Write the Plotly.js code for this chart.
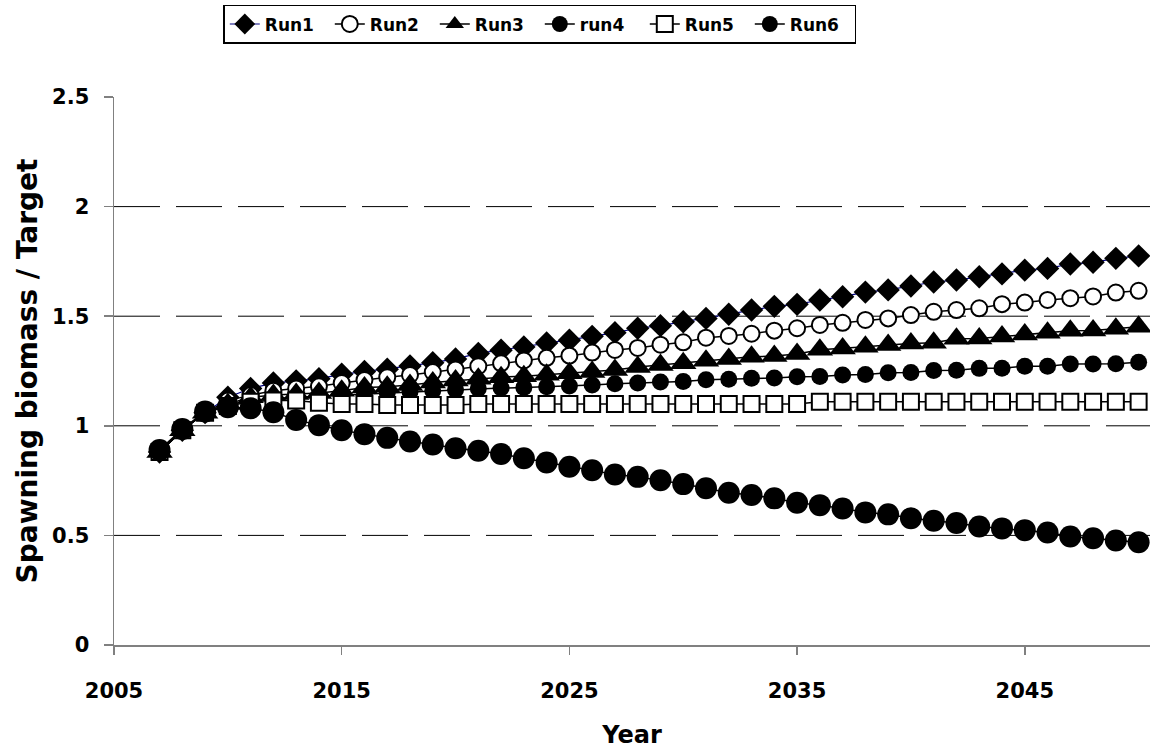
<!DOCTYPE html>
<html>
<head>
<meta charset="utf-8">
<script src="https://cdn.plot.ly/plotly-3.0.1.min.js"></script>
<style>html,body{margin:0;padding:0;background:#fff;}#chart{width:1150px;height:752px;}</style>
</head>
<body>
<div id="chart"></div>
<script>
const years = [2007,2008,2009,2010,2011,2012,2013,2014,2015,2016,2017,2018,2019,2020,2021,2022,2023,2024,2025,2026,2027,2028,2029,2030,2031,2032,2033,2034,2035,2036,2037,2038,2039,2040,2041,2042,2043,2044,2045,2046,2047,2048,2049,2050];

const run1 = [0.88,0.98,1.06,1.13,1.17,1.195,1.205,1.215,1.235,1.248,1.258,1.273,1.288,1.305,1.33,1.345,1.36,1.378,1.39,1.408,1.425,1.445,1.457,1.475,1.49,1.509,1.528,1.545,1.554,1.574,1.589,1.61,1.62,1.638,1.656,1.665,1.68,1.693,1.71,1.718,1.738,1.746,1.764,1.775];
const run2 = [0.88,0.98,1.06,1.115,1.14,1.16,1.17,1.18,1.195,1.209,1.222,1.232,1.245,1.257,1.272,1.285,1.298,1.31,1.32,1.334,1.346,1.355,1.37,1.381,1.402,1.41,1.42,1.434,1.445,1.46,1.47,1.483,1.49,1.505,1.52,1.528,1.536,1.555,1.562,1.574,1.582,1.59,1.608,1.616];
const run3 = [0.88,0.98,1.06,1.10,1.13,1.14,1.145,1.15,1.16,1.175,1.178,1.186,1.198,1.207,1.215,1.222,1.226,1.233,1.24,1.245,1.255,1.268,1.277,1.285,1.297,1.305,1.315,1.318,1.328,1.347,1.353,1.361,1.369,1.376,1.379,1.397,1.398,1.407,1.417,1.425,1.434,1.435,1.443,1.452];
const run4 = [0.88,0.98,1.06,1.095,1.115,1.125,1.13,1.135,1.14,1.145,1.15,1.155,1.16,1.165,1.17,1.172,1.175,1.178,1.182,1.186,1.192,1.195,1.2,1.202,1.21,1.212,1.217,1.218,1.224,1.225,1.232,1.234,1.242,1.243,1.252,1.253,1.262,1.263,1.272,1.272,1.282,1.282,1.283,1.29];
const run5 = [0.88,0.98,1.06,1.09,1.11,1.115,1.115,1.105,1.10,1.10,1.095,1.095,1.095,1.095,1.10,1.10,1.10,1.10,1.10,1.10,1.10,1.10,1.10,1.10,1.10,1.10,1.10,1.10,1.10,1.11,1.11,1.11,1.11,1.11,1.11,1.11,1.11,1.11,1.11,1.11,1.11,1.11,1.11,1.11];
const run6 = [0.89,0.985,1.065,1.085,1.08,1.062,1.027,1.003,0.98,0.962,0.945,0.928,0.915,0.898,0.886,0.871,0.852,0.833,0.813,0.797,0.778,0.767,0.752,0.734,0.715,0.695,0.684,0.669,0.649,0.638,0.623,0.605,0.596,0.578,0.567,0.557,0.541,0.532,0.524,0.513,0.495,0.487,0.477,0.469];

const seriesNames = ['Run1','Run2','Run3','run4','Run5','Run6'];
const xTicks = [2005,2015,2025,2035,2045];
const yTicks = [0,0.5,1,1.5,2,2.5];
const yGrid = [0.5,1,1.5,2];

const styles = [
  {symbol:'diamond', size:18, color:'#000', lineColor:'#000', lw:0, line:'#000080', width:1.2},
  {symbol:'circle', size:16, color:'#fff', lineColor:'#000', lw:2, line:'#000', width:1.5},
  {symbol:'triangle-up', size:23, color:'#000', lineColor:'#000', lw:0, line:'#000', width:1.5},
  {symbol:'circle', size:17, color:'#000', lineColor:'#000', lw:0, line:'#000', width:1.5},
  {symbol:'square', size:16, color:'#fff', lineColor:'#000', lw:2, line:'#000', width:1.5},
  {symbol:'circle', size:22, color:'#000', lineColor:'#000', lw:0, line:'#000', width:1.5}
];
const allRuns = [run1,run2,run3,run4,run5,run6];

const traces = allRuns.map((vals,i)=>({
  type:'scatter', mode:'lines+markers', name:seriesNames[i],
  x:years, y:vals,
  line:{color:styles[i].line, width:styles[i].width},
  marker:{symbol:styles[i].symbol, size:styles[i].size, color:styles[i].color,
          line:{color:styles[i].lineColor, width:styles[i].lw}},
  cliponaxis:false
}));

const fam = '"DejaVu Sans", "Liberation Sans", Arial, sans-serif';

const gridShapes = yGrid.map(v=>({
  type:'line', xref:'paper', x0:0, x1:1, yref:'y', y0:v, y1:v, layer:'below',
  line:{color:'#000', width:1, dash:'46px,16px'}
}));

const layout = {
  width:1150, height:752,
  margin:{l:114, r:0, t:97, b:107},
  paper_bgcolor:'#fff', plot_bgcolor:'#fff',
  font:{family:fam, size:18, color:'#000'},
  showlegend:true,
  legend:{orientation:'h', x:0.411, xanchor:'center', y:1.168, yanchor:'top',
          bordercolor:'#000', borderwidth:1.5, bgcolor:'#fff',
          font:{family:fam, size:17, color:'#000', weight:'bold'},
          itemwidth:30, entrywidth:60, entrywidthmode:'pixels', tracegroupgap:0},
  xaxis:{range:[2005,2050.5], tickvals:xTicks, ticktext:xTicks.map(String),
         showgrid:false, zeroline:false, showline:true, linecolor:'#808080', linewidth:1.5,
         ticks:'outside', ticklen:8, tickcolor:'#808080', tickwidth:1.5,
         ticklabelstandoff:18,
         tickfont:{family:fam, size:21, weight:'bold', color:'#000'},
         title:{text:'<b>Year</b>', font:{family:fam, size:24, color:'#000'}, standoff:24}},
  yaxis:{range:[0,2.5], tickvals:yTicks, ticktext:yTicks.map(String),
         showgrid:false, zeroline:false, showline:true, linecolor:'#808080', linewidth:1.5,
         ticks:'outside', ticklen:9, tickcolor:'#808080', tickwidth:1.5,
         ticklabelstandoff:10,
         tickfont:{family:fam, size:21, weight:'bold', color:'#000'},
         title:{text:'<b>Spawning biomass / Target</b>', font:{family:fam, size:28, color:'#000'}, standoff:6}},
  shapes:gridShapes
};

Plotly.newPlot('chart', traces, layout, {displayModeBar:false, staticPlot:true});
</script>
</body>
</html>
